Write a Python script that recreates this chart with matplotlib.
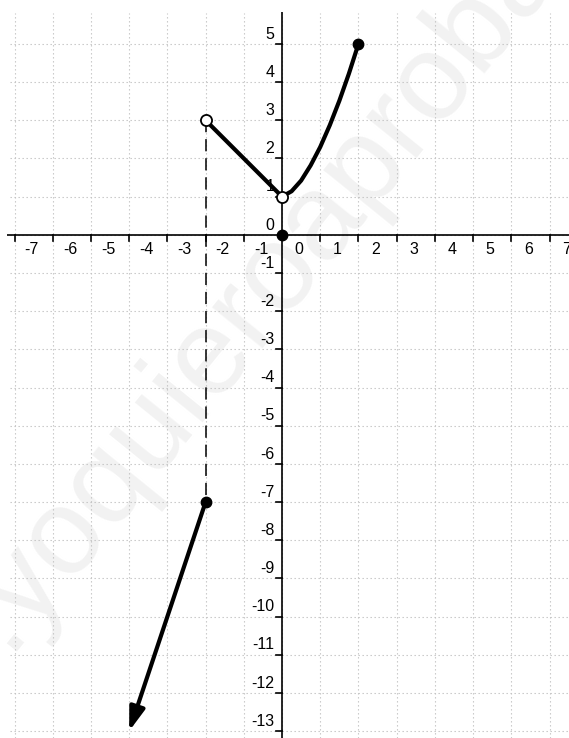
import matplotlib
matplotlib.use("Agg")
import matplotlib.pyplot as plt
import numpy as np

plt.rcParams['font.family'] = ['Liberation Sans', 'DejaVu Sans']

# ---- data ----
x_ticks = [-7, -6, -5, -4, -3, -2, -1, 0, 1, 2, 3, 4, 5, 6, 7]
x_tick_labels = ['-7', '-6', '-5', '-4', '-3', '-2', '-1', '0', '1', '2', '3', '4', '5', '6', '7']
y_ticks = [5, 4, 3, 2, 1, 0, -1, -2, -3, -4, -5, -6, -7, -8, -9, -10, -11, -12, -13]
y_tick_labels = ['5', '4', '3', '2', '1', '0', '-1', '-2', '-3', '-4', '-5', '-6', '-7',
                 '-8', '-9', '-10', '-11', '-12', '-13']

# piece 1: straight segment (open ends)
seg_x = [-2, 0]
seg_y = [3, 1]
# piece 2: curve from (0,1) open to (2,5) closed
curve_x = [0, 0.25, 0.5, 0.75, 1.0, 1.25, 1.5, 1.75, 2.0]
curve_y = [1, 1.14, 1.42, 1.82, 2.30, 2.87, 3.51, 4.22, 5.0]
# piece 3: ray from (-2,-7) closed going down to arrow at (-4,-13)
ray_x = [-2, -4]
ray_y = [-7, -13]
# dashed guide at x = -2
guide_x = -2
guide_y = [3, -7]
open_x = [-2, 0]
open_y = [3, 1]
closed_x = [2, -2, 0]
closed_y = [5, -7, 0]

fig = plt.figure(figsize=(5.69, 7.38), dpi=100)
ax = fig.add_axes([0, 0, 1, 1])
xmin, xmax = -7.38, 7.51
ymin, ymax = -13.18, 6.15
ax.set_xlim(xmin, xmax)
ax.set_ylim(ymin, ymax)
ax.axis('off')

# watermark
ax.text(0.012, 0.118, '.yoquieroaprobar', transform=ax.transAxes, fontsize=88,
        color='#f2f2f2', rotation=51, rotation_mode='anchor', ha='left', va='baseline',
        zorder=0, family=['Liberation Sans', 'DejaVu Sans'])

# dotted grid
grid_left, grid_top = -7.12, 5.81
ax.vlines(x_ticks, ymin, grid_top, colors='#c2c2c2', linewidth=0.8,
          linestyles=(0, (1.2, 2.4)), zorder=1)
ax.hlines(y_ticks, grid_left, xmax, colors='#c2c2c2', linewidth=0.8,
          linestyles=(0, (1.2, 2.4)), zorder=1)

# axes
ax.plot([-7.2, xmax], [0, 0], color='black', lw=1.2, zorder=2, solid_capstyle='butt')
ax.plot([0, 0], [ymin, 5.84], color='black', lw=1.2, zorder=2, solid_capstyle='butt')

# ticks
tick_len = 6 / 38.2
for t in x_ticks:
    if t != 0:
        ax.plot([t, t], [0, -tick_len], color='black', lw=1.2, zorder=2)
for t in y_ticks:
    if t != 0:
        ax.plot([0, -tick_len], [t, t], color='black', lw=1.2, zorder=2)

# tick labels
for t, lab in zip(x_ticks, x_tick_labels):
    ax.text(t + 0.45, -0.38, lab, ha='center', va='center', fontsize=11.5, zorder=3)
for t, lab in zip(y_ticks, y_tick_labels):
    ax.text(-0.2, t + 0.06, lab, ha='right', va='bottom', fontsize=11.5, zorder=3)

# dashed guide
ax.plot([guide_x, guide_x], guide_y, color='black', lw=1.1, linestyle=(0, (8, 4.5)), zorder=4)

# function pieces
ax.plot(seg_x, seg_y, color='black', lw=3, zorder=5, solid_capstyle='round')
ax.plot(curve_x, curve_y, color='black', lw=3, zorder=5, solid_capstyle='round',
        solid_joinstyle='round')
ax.annotate('', xy=(ray_x[1], ray_y[1]), xytext=(ray_x[0], ray_y[0]),
            arrowprops=dict(arrowstyle='-|>,head_length=1.0,head_width=0.33',
                            color='black', lw=3, mutation_scale=14,
                            shrinkA=0, shrinkB=0), zorder=5)

# points
ax.plot(closed_x, closed_y, 'o', color='black', ms=7.5, zorder=6)
ax.plot(open_x, open_y, 'o', mfc='white', mec='black', mew=1.3, ms=8, zorder=6)

fig.savefig('out.png', dpi=100)
